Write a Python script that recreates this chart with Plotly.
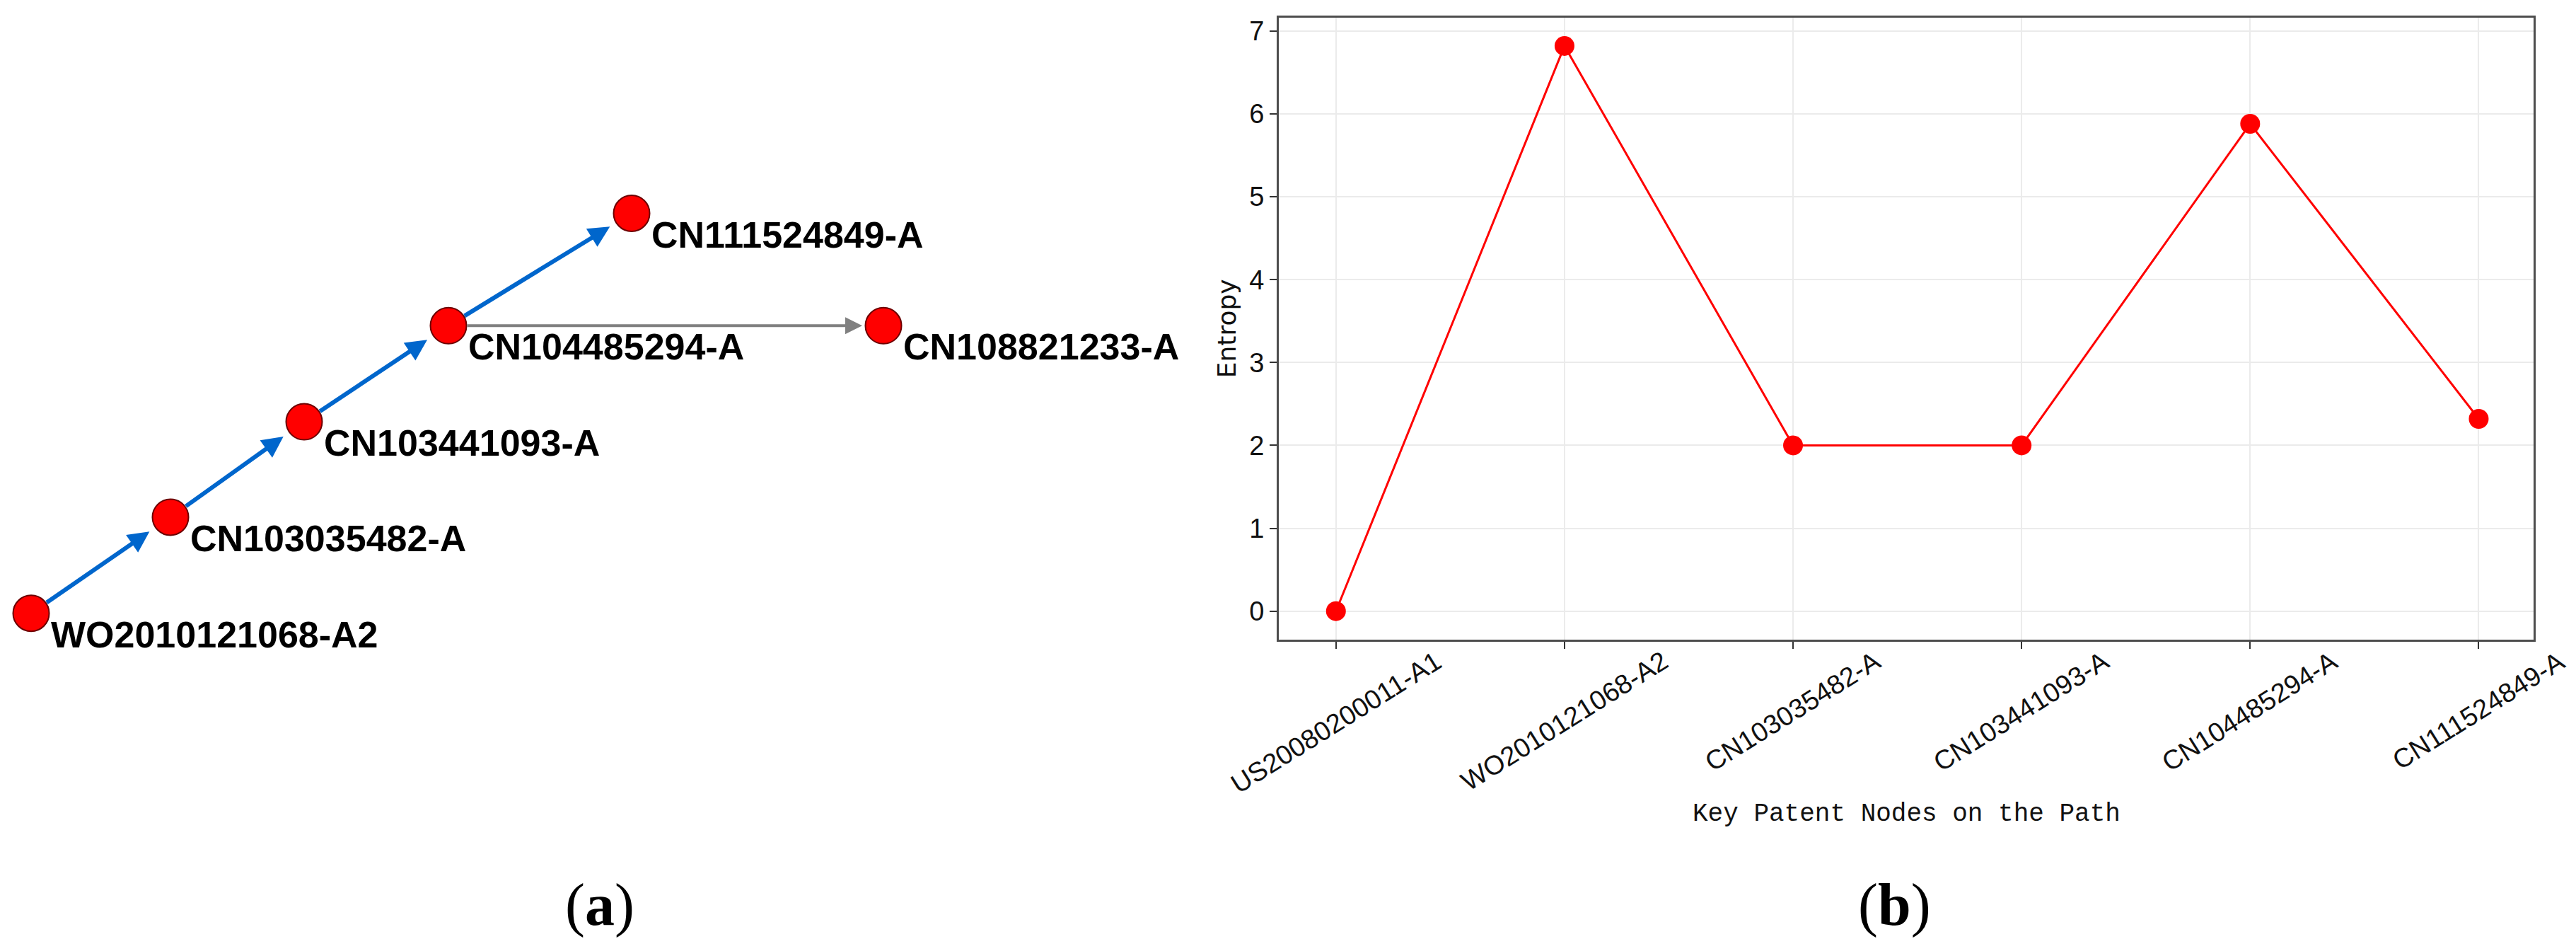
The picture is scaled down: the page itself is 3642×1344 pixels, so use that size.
import plotly.graph_objects as go

W, H = 3642, 1344

# ---------------- Panel (b): entropy along the key path ----------------
patents = ["US20080200011-A1", "WO2010121068-A2", "CN103035482-A",
           "CN103441093-A", "CN104485294-A", "CN111524849-A"]
entropy = [0.0, 6.82, 2.0, 2.0, 5.88, 2.32]
y_ticks = [0, 1, 2, 3, 4, 5, 6, 7]

# ---------------- Panel (a): main path network ----------------
node_names = ["WO2010121068-A2", "CN103035482-A", "CN103441093-A",
              "CN104485294-A", "CN111524849-A", "CN108821233-A"]
node_x = [0.0, 1.97, 3.86, 5.90, 8.49, 12.05]
node_y = [0.0, 1.36, 2.71, 4.07, 5.66, 4.07]
edge_src = [0, 1, 2, 3, 3]
edge_dst = [1, 2, 3, 4, 5]
edge_on_path = [True, True, True, True, False]

# ---------------- layout geometry (pixels) ----------------
PL, PR, PT, PB = 1808, 3582, 23, 903  # right plot area


def px_x(p):
    return p / W


def px_y(p):
    return 1 - p / H


fig = go.Figure()

# network nodes
fig.add_trace(go.Scatter(
    x=node_x, y=node_y, xaxis="x2", yaxis="y2", mode="markers",
    marker=dict(size=51, color="#ff0000", line=dict(color="#6b0000", width=2)),
    hoverinfo="text", text=node_names, showlegend=False, cliponaxis=False))

# entropy line
fig.add_trace(go.Scatter(
    x=patents, y=entropy, mode="lines+markers",
    line=dict(color="#ff0000", width=3),
    marker=dict(size=28, color="#ff0000"),
    showlegend=False, cliponaxis=False))

annotations = []
# edges as arrows
for s, d, on in zip(edge_src, edge_dst, edge_on_path):
    annotations.append(dict(
        x=node_x[d], y=node_y[d], ax=node_x[s], ay=node_y[s],
        xref="x2", yref="y2", axref="x2", ayref="y2", text="",
        showarrow=True, arrowhead=2,
        arrowsize=1.0 if on else 1.2,
        arrowwidth=6 if on else 4,
        arrowcolor="#0066cc" if on else "#808080",
        standoff=36 if on else 30, startstandoff=25))

# node labels
for name, x, y in zip(node_names, node_x, node_y):
    annotations.append(dict(
        x=x, y=y, xref="x2", yref="y2", text=name, showarrow=False,
        xanchor="left", yanchor="middle", xshift=26, yshift=-30,
        font=dict(family="Liberation Sans, Arial, sans-serif", size=52,
                  color="#000000", weight="bold")))

# rotated category labels (centered on ticks)
for p in patents:
    annotations.append(dict(
        x=p, y=px_y(909), xref="x", yref="paper", text=p, showarrow=False,
        textangle=-32, xanchor="center", yanchor="top",
        font=dict(family="Liberation Sans, Arial, sans-serif",
                  size=38, color="#111111")))

# x axis title
annotations.append(dict(
    x=(PL + PR) / 2 / W, y=px_y(1150), xref="paper", yref="paper",
    text="Key Patent Nodes on the Path", showarrow=False,
    xanchor="center", yanchor="middle",
    font=dict(family="Liberation Mono, DejaVu Sans Mono, monospace", size=36,
              color="#111111")))

# panel labels
for lab, cx in (("a", 848), ("b", 2678)):
    annotations.append(dict(
        x=cx / W, y=px_y(1279), xref="paper", yref="paper",
        text="(<b>%s</b>)" % lab, showarrow=False,
        xanchor="center", yanchor="middle",
        font=dict(family="Liberation Serif, Times New Roman, serif", size=84,
                  color="#000000")))

axis_common = dict(showline=True, linecolor="#4d4d4d", linewidth=3, mirror=True,
                   ticks="outside", ticklen=10, tickwidth=2, tickcolor="#333333",
                   showgrid=True, gridcolor="#ebebeb", gridwidth=2, zeroline=False)

fig.update_layout(
    width=W, height=H,
    margin=dict(l=0, r=0, t=0, b=0),
    paper_bgcolor="white", plot_bgcolor="white",
    showlegend=False,
    xaxis=dict(domain=[px_x(PL), px_x(PR)], anchor="y", type="category",
               categoryorder="array", categoryarray=patents,
               range=[-0.25, 5.24], showticklabels=False, **axis_common),
    yaxis=dict(domain=[px_y(PB), px_y(PT)], anchor="x",
               range=[-0.341, 7.161], tickvals=y_ticks,
               tickfont=dict(family="Liberation Sans, Arial, sans-serif", size=38,
                             color="#111111"),
               title=dict(text="Entropy", standoff=8,
                          font=dict(family="DejaVu Sans, Verdana, sans-serif",
                                    size=36, color="#111111")),
               **axis_common),
    xaxis2=dict(domain=[0, 1700 / W], anchor="y2", range=[-0.44, 16.56],
                visible=False),
    yaxis2=dict(domain=[0, 1], anchor="x2", range=[-4.78, 8.66], visible=False),
    annotations=annotations,
)

fig.write_html(
    "out.html",
    config={"displayModeBar": False},
    post_script="document.body.style.margin='0';document.body.style.overflow='hidden';")
